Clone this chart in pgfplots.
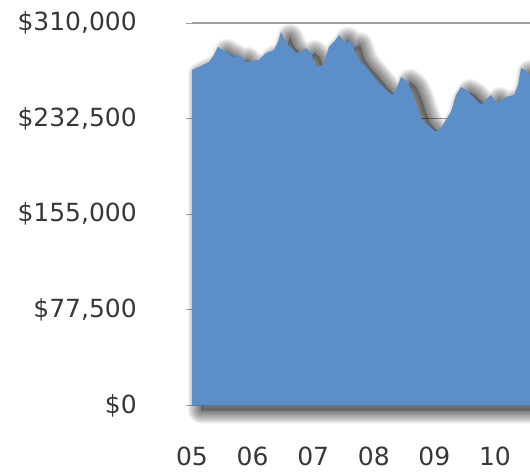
\documentclass[border=0pt]{standalone}
\usepackage{pgfplots}
\pgfplotsset{compat=1.18}
\usepackage{pgfplotstable}
\usepackage{fontspec}
\setmainfont{DejaVu Sans}
\definecolor{areablue}{RGB}{92,142,199}
\definecolor{labelgray}{RGB}{55,55,55}
\pgfplotstableread{
year value
2005.000 272000
2005.149 275200
2005.281 278400
2005.363 284100
2005.429 290600
2005.512 288100
2005.578 286500
2005.677 282500
2005.776 284100
2005.891 278400
2006.007 279200
2006.106 280100
2006.221 285700
2006.353 288100
2006.419 294600
2006.469 302700
2006.551 293800
2006.634 289800
2006.716 285700
2006.799 286500
2006.881 289800
2006.964 285700
2007.046 274400
2007.162 276000
2007.261 290600
2007.343 294600
2007.426 300300
2007.492 296200
2007.541 293800
2007.624 296200
2007.706 284100
2007.789 278400
2007.904 272000
2007.987 267100
2008.069 262200
2008.152 258200
2008.234 254200
2008.317 251700
2008.399 259800
2008.449 266300
2008.515 263900
2008.564 261400
2008.647 251700
2008.696 243600
2008.779 233100
2008.861 228300
2008.944 225000
2009.026 221800
2009.109 225000
2009.191 231500
2009.274 238000
2009.356 251700
2009.439 258200
2009.521 255800
2009.604 251700
2009.686 247700
2009.769 243600
2009.851 247700
2009.934 251700
2010.017 245200
2010.099 247700
2010.182 250100
2010.314 251700
2010.380 259800
2010.429 273600
2010.495 272000
2010.545 269500
2010.677 263900
2010.842 259800
}\pricedata

\begin{document}
\begin{tikzpicture}
\useasboundingbox (0,0) rectangle (530pt,472pt);
\clip (0,0) rectangle (530pt,472pt);
\begin{axis}[
  at={(192pt,66.5pt)}, anchor=south west,
  scale only axis, width=393.9pt, height=382.5pt,
  xmin=2005, xmax=2011.5, ymin=0, ymax=310000,
  clip=false,
  axis line style={draw=none},
  ytick={0,77500,155000,232500,310000},
  yticklabels={\$0,{\$77,500},{\$155,000},{\$232,500},{\$310,000}},
  xtick={2005,2006,2007,2008,2009,2010},
  xticklabels={05,06,07,08,09,10},
  scaled y ticks=false,
  ymajorgrids, grid style={gray!75, line width=1.2pt},
  tick align=outside, major tick length=6pt,
  ytick style={gray!75, line width=1pt},
  xtick style={draw=none},
  tick label style={font=\fontsize{25}{30}\selectfont, text=labelgray},
  yticklabel style={anchor=east, inner sep=0pt, xshift=-49pt},
  xticklabel style={anchor=base, inner sep=0pt, yshift=-54pt},
]
\addplot[draw=none, fill=black, opacity=0.25, xshift=9pt, yshift=-5pt] table {\pricedata} \closedcycle;
\pgfplotsinvokeforeach{2,4,6,8,10,12,14,16,18,20,22,24,26}{
  \addplot[draw=black, fill=none, line width=#1pt, line join=round, opacity=0.05, xshift=9pt, yshift=-5pt] table {\pricedata} \closedcycle;
}
\addplot[draw=none, fill=areablue] table {\pricedata} \closedcycle;
\end{axis}
\end{tikzpicture}
\end{document}
